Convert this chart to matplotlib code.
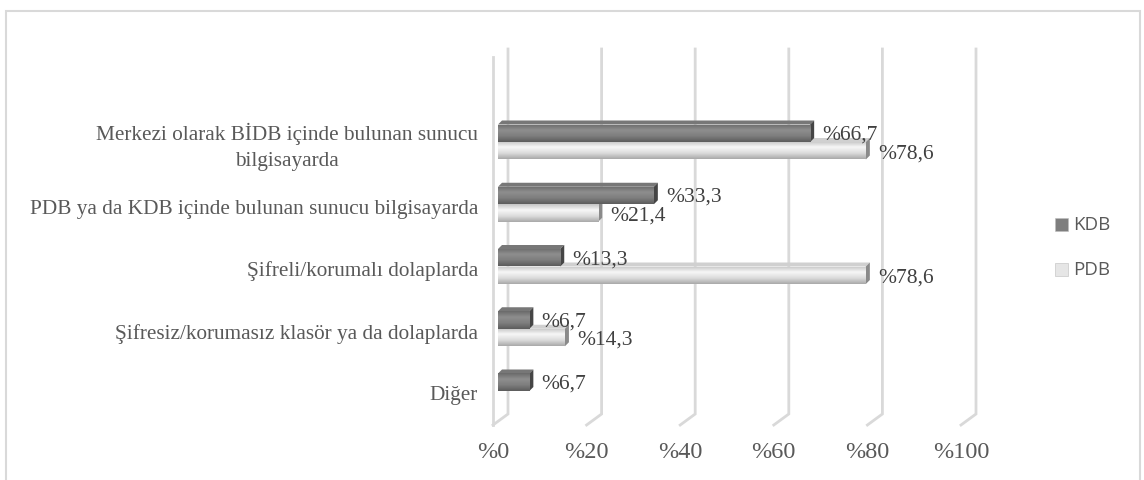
import numpy as np
import matplotlib
matplotlib.use("Agg")
import matplotlib.pyplot as plt
from matplotlib.patches import Rectangle, Polygon
from matplotlib.colors import LinearSegmentedColormap

categories = [
    "Merkezi olarak BİDB içinde bulunan sunucu\nbilgisayarda",
    "PDB ya da KDB içinde bulunan sunucu bilgisayarda",
    "Şifreli/korumalı dolaplarda",
    "Şifresiz/korumasız klasör ya da dolaplarda",
    "Diğer",
]
kdb = [66.7, 33.3, 13.3, 6.7, 6.7]
pdb = [78.6, 21.4, 78.6, 14.3, 0.0]
kdb_labels = ["%66,7", "%33,3", "%13,3", "%6,7", "%6,7"]
pdb_labels = ["%78,6", "%21,4", "%78,6", "%14,3", None]
ticks = [0, 20, 40, 60, 80, 100]
tick_labels = ["%0", "%20", "%40", "%60", "%80", "%100"]
series_names = ["KDB", "PDB"]

W, H = 1144, 481
fig = plt.figure(figsize=(W / 100, H / 100), dpi=100)
fig.patch.set_facecolor("white")

# frame
fig.add_artist(Rectangle((6 / W, -0.05), 1134 / W, 1.05 - 12 / H,
                         transform=fig.transFigure, fill=False,
                         edgecolor="#d9d9d9", lw=1.5))

ax_left, ax_right = 498, 966
ax_top, ax_bot = 50, 415
ax = fig.add_axes([ax_left / W, 1 - ax_bot / H, (ax_right - ax_left) / W, (ax_bot - ax_top) / H])
ax.set_axis_off()

px_x = 100.0 / (ax_right - ax_left)      # data units per pixel (x)
c0, step = 143, 62.25                     # pixel y of first category center, spacing
y_top = (ax_top - c0) / step
y_bot = (ax_bot - c0) / step
px_y = 1.0 / step
ax.set_xlim(0, 100)
ax.set_ylim(y_bot, y_top)

grid_c = "#d9d9d9"
back = 10 * px_x
front = -5 * px_x
y_floor = y_bot + 11 * px_y
for v in ticks:
    ax.plot([v + back, v + back, v + front], [y_top, y_bot, y_floor],
            color=grid_c, lw=2, clip_on=False, zorder=1, solid_joinstyle="miter")
# left wall front edge
ax.plot([front, front], [y_top + 8 * px_y, y_floor], color=grid_c, lw=2, clip_on=False, zorder=1)

for v, lab in zip(ticks, tick_labels):
    ax.text(v + front, y_floor + 27 * px_y, lab, ha="center", va="center",
            fontsize=17.5, family="Liberation Serif", color="#595959")

bh = 17.5 * px_y
dx, dy = 4 * px_x, -4 * px_y
idx = np.arange(len(categories))

kdb_cmap = LinearSegmentedColormap.from_list("k", ["#6a6a6a", "#8e8e8e", "#7e7e7e", "#5c5c5c"])
pdb_cmap = LinearSegmentedColormap.from_list("p", ["#c4c4c4", "#f7f7f7", "#dcdcdc", "#a9a9a9"])
grad = np.linspace(0, 1, 64).reshape(-1, 1)

def draw_series(vals, offset, cmap, side_c, top_c, z):
    bars = ax.barh(idx + offset, vals, height=bh, color="none", edgecolor="none", zorder=z)
    for b in bars:
        x0, y0 = b.get_x(), b.get_y()
        w, h = b.get_width(), b.get_height()
        if w <= 0:
            continue
        ax.add_patch(Polygon([(x0, y0), (x0 + dx, y0 + dy), (x0 + w + dx, y0 + dy), (x0 + w, y0)],
                             closed=True, facecolor=top_c, edgecolor="none", zorder=z))
        ax.add_patch(Polygon([(x0 + w, y0), (x0 + w + dx, y0 + dy), (x0 + w + dx, y0 + h + dy), (x0 + w, y0 + h)],
                             closed=True, facecolor=side_c, edgecolor="none", zorder=z))
        face = Rectangle((x0, y0), w, h, facecolor="none", edgecolor="none", zorder=z)
        ax.add_patch(face)
        im = ax.imshow(grad, extent=[x0, x0 + w, y0 + h, y0], cmap=cmap, aspect="auto",
                       interpolation="bilinear", zorder=z + 0.1, origin="upper")
        im.set_clip_path(face)
    return bars

draw_series(pdb, bh / 2, pdb_cmap, "#8a8a8a", "#d0d0d0", 3)
draw_series(kdb, -bh / 2, kdb_cmap, "#454545", "#777777", 4)
ax.set_xlim(0, 100)
ax.set_ylim(y_bot, y_top)

for i, (v, lab) in enumerate(zip(kdb, kdb_labels)):
    ax.text(v + 12 * px_x, i - bh / 2 + 1 * px_y, lab, ha="left", va="center",
            fontsize=15.5, family="Liberation Serif", color="#404040", zorder=6)
for i, (v, lab) in enumerate(zip(pdb, pdb_labels)):
    if lab is None:
        continue
    ax.text(v + 12 * px_x, i + bh / 2 + 2 * px_y, lab, ha="left", va="center",
            fontsize=15.5, family="Liberation Serif", color="#404040", zorder=6)

for i, cat in enumerate(categories):
    ax.text(-20 * px_x, i + 4 * px_y, cat, ha="right", va="center", multialignment="center",
            fontsize=15.3, family="Liberation Serif", color="#595959", linespacing=1.5)

# legend
leg_colors = ["#7e7e7e", "#e6e6e6"]
leg_y = [225, 270]
for name, col, yy in zip(series_names, leg_colors, leg_y):
    fig.add_artist(Rectangle((1055 / W, 1 - (yy + 7) / H), 13 / W, 13 / H,
                             transform=fig.transFigure, facecolor=col, edgecolor="#bdbdbd", lw=0.4))
    fig.text(1073 / W, 1 - yy / H, name, ha="left", va="center", fontsize=13.5,
             family="Open Sans", color="#595959")

fig.savefig("out.png", dpi=100, facecolor="white")
